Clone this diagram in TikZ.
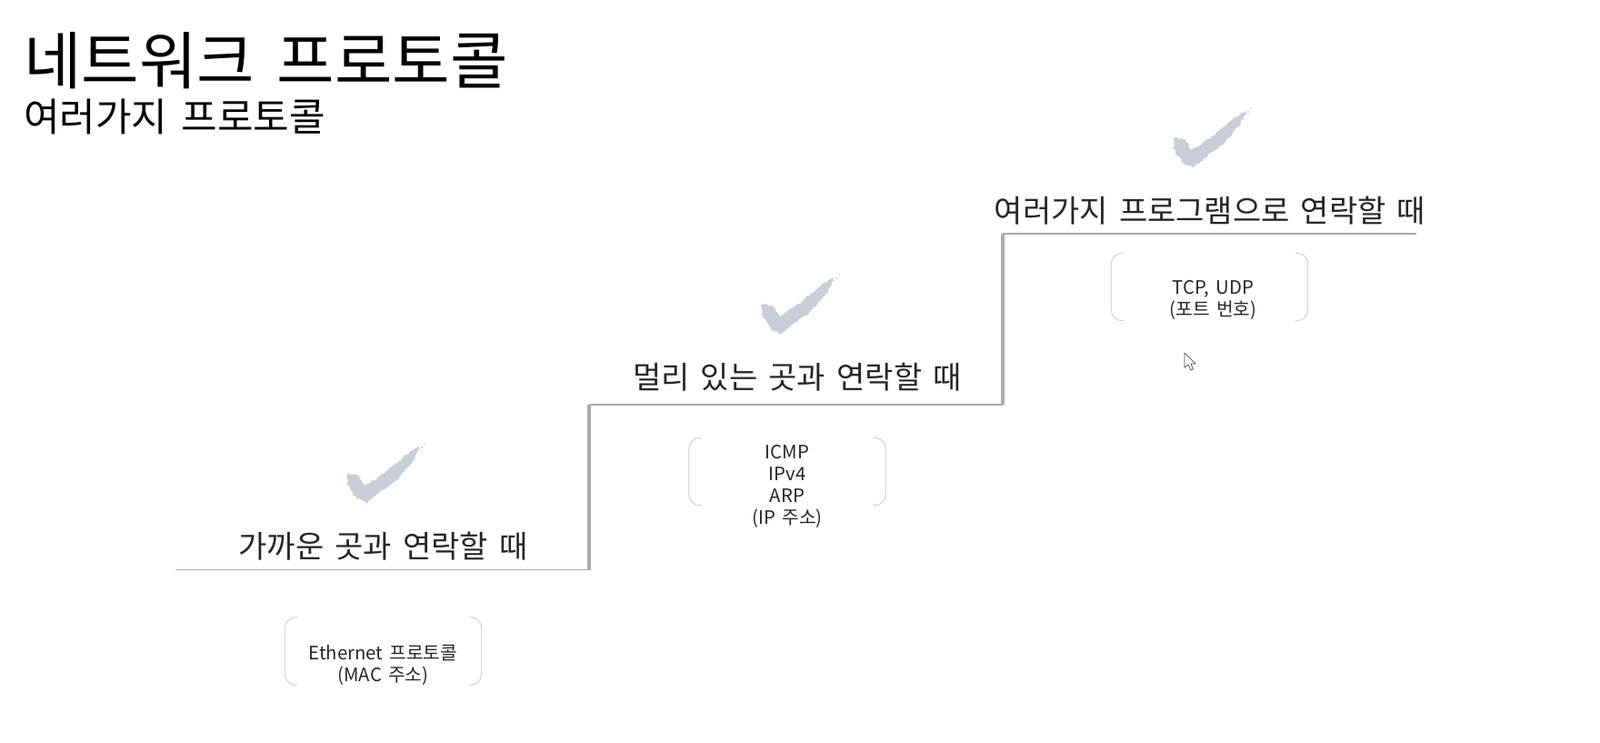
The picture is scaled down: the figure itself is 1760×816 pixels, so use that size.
\documentclass[tikz,border=0pt]{standalone}
\usepackage{fontspec}
\setmainfont{Noto Sans CJK KR}[WordSpace=1.6]
\usetikzlibrary{decorations.pathmorphing}
\usetikzlibrary{positioning}
\definecolor{inkgray}{HTML}{262626}
\definecolor{stepgray}{HTML}{ABABAB}
\definecolor{boxgray}{HTML}{C8C8C8}
\definecolor{checkgray}{HTML}{C8CDD7}
\tikzset{
    every picture/.style={x=1pt,y=-1pt},
    crayon/.style={fill=checkgray, line join=round,
          decoration={random steps, segment length=2pt, amplitude=1.2pt}, decorate},
    tick/.pic={
      \fill[crayon] (-39,-79) -- (-27.7,-78.3) -- (-19.3,-66) -- (2.3,-80) -- (25.7,-100)
          -- (41,-110) -- (34,-94) -- (15,-72) -- (-4,-58) -- (-17.7,-46.5)
          -- (-28.7,-52) -- (-38.7,-67) -- cycle;
      \fill[checkgray] (43,-108) circle (1.2pt) (46,-112) circle (0.9pt) (40,-105) circle (1.2pt) (44,-105) circle (0.7pt);
    },
    head/.style={text=inkgray,inner sep=0pt,font=\fontsize{34}{34}\selectfont},
    tread/.style={draw=stepgray,line width=1.8pt},
    riser/.style={draw=stepgray,line width=3.4pt},
    bracket/.style={draw=boxgray,line width=0.8pt,rounded corners=12pt},
    frame/.style={minimum width=216pt,minimum height=74pt,inner sep=0pt},
    proto/.style={text=inkgray,inner sep=0pt,align=center,font=\fontsize{20.3}{24}\selectfont},
}

\begin{document}
\begin{tikzpicture}
    \useasboundingbox (0,0) rectangle (1760,816);
    \node (title) [anchor=west,inner sep=0pt,text=black,font=\fontsize{69}{69}\selectfont] at (26,67) {네트워크 프로토콜};
    \node (subtitle) [anchor=west,inner sep=0pt,text=black,font=\fontsize{43}{43}\selectfont] at (26,128) {여러가지 프로토콜};

    % steps
    \coordinate (a0) at (193,626.5);
    \coordinate (a1) at (648,626.5);
    \coordinate (b0) at (648,445);
    \coordinate (b1) at (1103,445);
    \coordinate (c0) at (1103,257);
    \coordinate (c1) at (1558,257);
    \draw[tread] (a0) -- (a1);
    \draw[riser] (a1) -- (b0);
    \draw[tread] (b0) -- (b1);
    \draw[riser] (b1) -- (c0);
    \draw[tread] (c0) -- (c1);

    \node (h1) [head] at (421.5,601) {가까운 곳과 연락할 때};
    \node (h2) [head] at (877,415) {멀리 있는 곳과 연락할 때};
    \node (h3) [head] at (1331,232) {여러가지 프로그램으로 연락할 때};
    \pic at (421,600) {tick};
    \pic at (877,414) {tick};
    \pic at (1330,231) {tick};

    \node (f1) [frame] at (421.5,716) {};
    \node (f2) [frame] at (866,518.5) {};
    \node (f3) [frame] at (1330.5,315.5) {};
    \draw[bracket] ([xshift=14pt]f1.north west) -- (f1.north west) -- (f1.south west) -- ([xshift=14pt]f1.south west);
    \draw[bracket] ([xshift=-14pt]f1.north east) -- (f1.north east) -- (f1.south east) -- ([xshift=-14pt]f1.south east);
    \draw[bracket] ([xshift=14pt]f2.north west) -- (f2.north west) -- (f2.south west) -- ([xshift=14pt]f2.south west);
    \draw[bracket] ([xshift=-14pt]f2.north east) -- (f2.north east) -- (f2.south east) -- ([xshift=-14pt]f2.south east);
    \draw[bracket] ([xshift=14pt]f3.north west) -- (f3.north west) -- (f3.south west) -- ([xshift=14pt]f3.south west);
    \draw[bracket] ([xshift=-14pt]f3.north east) -- (f3.north east) -- (f3.south east) -- ([xshift=-14pt]f3.south east);

    \node (p1) [proto] at (421.5,731) {Ethernet 프로토콜\\(MAC 주소)};
    \node (p2) [proto] at (866,535) {ICMP\\IPv4\\ARP\\(IP 주소)};
    \node (p3) [proto] at (1334.5,330) {TCP, UDP\\(포트 번호)};

    % mouse pointer
    \draw[black!70,fill=white,line width=0.7pt,line join=round] (1303,388) -- (1303,404) -- (1307,401)
        -- (1310,407) -- (1312.5,406) -- (1310,400) -- (1315,400) -- cycle;
\end{tikzpicture}
\end{document}
